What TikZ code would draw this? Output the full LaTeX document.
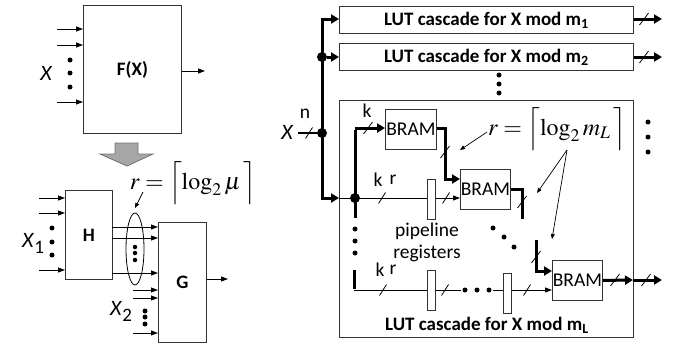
\documentclass[tikz,border=0pt]{standalone}
\usepackage{mathptmx}
\usepackage[no-math]{fontspec}
\setmainfont{Carlito}
\usetikzlibrary{arrows.meta,shapes.geometric}
\tikzset{
  blk/.style={draw=black!80, line width=0.9pt, inner sep=0pt, anchor=north west},
  lbl/.style={font=\fontsize{19.5}{23}\selectfont},
  blbl/.style={font=\bfseries\fontsize{19}{22}\selectfont},
  ilbl/.style={font=\itshape\fontsize{22}{26}\selectfont},
  mlbl/.style={font=\fontsize{24}{28}\selectfont},
  ln/.style={line width=0.9pt},
  arr/.style={line width=0.9pt, -{Triangle[length=7pt,width=5pt]}},
  tln/.style={line width=3pt},
  tarr/.style={line width=3pt, -{Triangle[length=8pt,width=9pt]}},
  smalldot/.style={circle, fill, inner sep=0pt, minimum size=5pt},
  jdot/.style={circle, fill, inner sep=0pt, minimum size=10pt},
  slashmk/.pic={\draw[line width=0.8pt] (-3.5,5.5) -- (3.5,-5.5);},
  bigslash/.pic={\draw[line width=0.8pt] (-4.5,6) -- (4.5,-6);},
}
\begin{document}
\begin{tikzpicture}[x=1pt,y=-1pt]
\useasboundingbox (0,0) rectangle (683,348);

% ---------- left top: F(X) ----------
\node[blk, blbl, minimum width=98pt, minimum height=128pt] (F) at (83,5) {F(X)};
\coordinate (fi1) at (57,29);
\coordinate (fi2) at (57,45);
\coordinate (fi3) at (57,102);
\foreach \c in {fi1,fi2,fi3} \draw[arr] (\c) -- (\c -| F.west);
\node[smalldot] (fd1) at (70,60) {};
\node[smalldot] (fd2) at (70,73) {};
\node[smalldot] (fd3) at (70,87) {};
\node[ilbl] (xl) at (46,73) {X};
\coordinate (fo) at (205,71);
\draw[arr] (F.east |- fo) -- (fo);

% big gray arrow
\draw[draw=black!55, fill=black!35, line width=0.8pt]
  (115,143) -- (138,143) -- (138,154) -- (153,154) -- (127,166) -- (100,154) -- (115,154) -- cycle;

% ---------- left bottom: H and G ----------
\node[blk, blbl, minimum width=47pt, minimum height=89pt] (H) at (65,190) {H};
\node[blk, blbl, minimum width=48pt, minimum height=120pt] (G) at (158,222) {G};
\coordinate (hi1) at (39,198);
\coordinate (hi2) at (39,213);
\coordinate (hi3) at (39,270);
\foreach \c in {hi1,hi2,hi3} \draw[arr] (\c) -- (\c -| H.west);
\node[smalldot] (hd1) at (52,228) {};
\node[smalldot] (hd2) at (52,242) {};
\node[smalldot] (hd3) at (52,255) {};
\node[font=\fontsize{22}{26}\selectfont] (x1) at (33,243) {\textit{X}\raisebox{-6pt}{\fontsize{19}{22}\selectfont 1}};
\coordinate (hg1) at (112,227);
\coordinate (hg2) at (112,238);
\coordinate (hg3) at (112,273);
\foreach \c in {hg1,hg2,hg3} \draw[arr] (\c) -- (\c -| G.west);
\node[draw, ellipse, line width=0.8pt, minimum width=18pt, minimum height=72pt, inner sep=0pt] (ell) at (135,249) {};
\node[smalldot, minimum size=4.5pt] (ed1) at (135,247) {};
\node[smalldot, minimum size=4.5pt] (ed2) at (135,253) {};
\node[smalldot, minimum size=4.5pt] (ed3) at (135,260) {};
\coordinate (gi1) at (133,290);
\coordinate (gi2) at (133,298);
\coordinate (gi3) at (133,333);
\foreach \c in {gi1,gi2,gi3} \draw[arr] (\c) -- (\c -| G.west);
\node[smalldot] (gd1) at (145,311) {};
\node[smalldot] (gd2) at (145,317) {};
\node[smalldot] (gd3) at (145,324) {};
\node[font=\fontsize{22}{26}\selectfont] (x2) at (121,311) {\textit{X}\raisebox{-6pt}{\fontsize{19}{22}\selectfont 2}};
\coordinate (go) at (228,279);
\draw[arr] (G.east |- go) -- (go);
\node[mlbl] (rmu) at (193,183) {$r=\Bigl\lceil \log_2 \mu \,\Bigr\rceil$};
\coordinate (rma) at (143,192);
\coordinate (rmb) at (135,208);
\draw[line width=0.7pt, -{Triangle[length=5pt,width=4pt]}] (rma) -- (rmb);

% ---------- right part ----------
\node[blk, blbl, minimum width=294pt, minimum height=27pt] (B1) at (339,6) {LUT cascade for X mod m\textsubscript{1}};
\node[blk, blbl, minimum width=294pt, minimum height=27pt] (B2) at (339,43) {LUT cascade for X mod m\textsubscript{2}};
\node[blk, minimum width=294pt, minimum height=237pt] (BL) at (339,100) {};
\node[blbl] (bltxt) at (487,325) {LUT cascade for X mod m\textsubscript{L}};

% outputs of box 1, 2
\coordinate (o1) at (662,19);
\coordinate (o2) at (662,57);
\draw[tarr] (B1.east |- o1) -- (o1);
\draw[tarr] (B2.east |- o2) -- (o2);
\pic at (644,19) {bigslash};
\pic at (644,57) {bigslash};

% dots between boxes
\node[smalldot] (vd1) at (499,75) {};
\node[smalldot] (vd2) at (499,84) {};
\node[smalldot] (vd3) at (499,93) {};
\node[smalldot] (rd1) at (648,122) {};
\node[smalldot] (rd2) at (648,137) {};
\node[smalldot] (rd3) at (648,152) {};

% bus
\coordinate (bust) at (322,19);
\coordinate (busb) at (322,198);
\node[jdot] (j2) at (322,57) {};
\node[jdot] (j1) at (322,133) {};
\draw[tln] (busb) -- (bust);
\draw[tarr] ([xshift=-1.5pt]bust) -- (bust -| B1.west);
\draw[tarr] (j2) -- (j2 -| B2.west);
\draw[tarr] ([xshift=-1.5pt]busb) -- (busb -| BL.west);
\coordinate (xin) at (298,133);
\draw[line width=1.6pt] (xin) -- (j1);
\pic at (309,133) {slashmk};
\node[ilbl] (xr) at (287,132) {X};
\node[lbl] (nl) at (305,114) {n};

% inside the L cascade
\node[jdot] (j3) at (355,198) {};
\coordinate (vt) at (355,128);
\coordinate (vb) at (355,218);
\draw[tln] ([yshift=-1.5pt]vt) -- (vb);
\node[blk, lbl, minimum width=51pt, minimum height=40pt] (R1) at (385,109) {BRAM};
\node[blk, lbl, minimum width=50pt, minimum height=40pt] (R2) at (460,169) {BRAM};
\node[blk, lbl, minimum width=50pt, minimum height=40pt] (R3) at (552,260) {BRAM};
\node[blk, minimum width=8pt, minimum height=40pt] (P1) at (427,179) {};
\node[blk, minimum width=8pt, minimum height=40pt] (P2) at (427,270) {};
\node[blk, minimum width=8pt, minimum height=40pt] (P3) at (503,273) {};

\draw[ln] (busb -| BL.west) -- (j3);
\draw[tarr] (vt) -- (vt -| R1.west);
\pic at (368,128) {bigslash};
\node[lbl] (kl1) at (367,111) {k};

\coordinate (c1) at (445,128);
\coordinate (c2) at (445,179);
\draw[tarr] (R1.east |- c1) -- (c1) -- (c2) -- (c2 -| R2.west);
\pic at (445,152) {bigslash};

\draw[ln] (j3) -- (j3 -| P1.west);
\draw[arr] (j3 -| P1.east) -- (j3 -| R2.west);
\pic at (382,198) {slashmk};
\pic at (446,198) {slashmk};
\node[lbl] (kl2) at (378,180) {k};
\node[lbl] (rl2) at (393,180) {r};

\coordinate (c3) at (522,189);
\coordinate (c4) at (522,219);
\draw[tln] (R2.east |- c3) -- (c3) -- (c4);
\pic at (522,202) {bigslash};

\node[smalldot] (dd1) at (493,228) {};
\node[smalldot] (dd2) at (504,237) {};
\node[smalldot] (dd3) at (514,247) {};

\coordinate (c5) at (536,240);
\coordinate (c6) at (536,271);
\draw[tarr] (c5) -- (c6) -- (c6 -| R3.west);
\pic at (536,257) {bigslash};

\coordinate (o3) at (633,280);
\coordinate (o4) at (662,280);
\draw[tarr] (R3.east) -- (o3);
\draw[tarr] (o3) -- (o4);
\pic at (615,280) {bigslash};
\pic at (646,280) {bigslash};

% left dots inside
\node[smalldot] (ld1) at (355,229) {};
\node[smalldot] (ld2) at (355,241) {};
\node[smalldot] (ld3) at (355,253) {};

% bottom row
\coordinate (bt) at (354,270);
\coordinate (bb) at (354,290);
\draw[tln] (bt) -- ([yshift=1.5pt]bb);
\draw[ln] (bb) -- (bb -| P2.west);
\pic at (383,290) {slashmk};
\node[lbl] (kl3) at (380,270) {k};
\node[lbl] (rl3) at (393,270) {r};
\coordinate (b1) at (461,290);
\draw[ln] (bb -| P2.east) -- (b1);
\pic at (445,290) {slashmk};
\node[smalldot] (hd1r) at (465,290) {};
\node[smalldot] (hd2r) at (477,290) {};
\node[smalldot] (hd3r) at (489,290) {};
\coordinate (b2) at (493,290);
\draw[ln] (b2) -- (b2 -| P3.west);
\draw[arr] (bb -| P3.east) -- (bb -| R3.west);
\pic at (527,290) {slashmk};

\node[lbl] (pl1) at (427,231) {pipeline};
\node[lbl] (pl2) at (427,253) {registers};

% r label with arrows
\node[mlbl] (rml) at (557,129) {$r=\Bigl\lceil \log_2 m_L \,\Bigr\rceil$};
\coordinate (a0) at (487,132);
\coordinate (a1) at (460,150);
\coordinate (a2) at (567,150);
\coordinate (a3) at (537,193);
\coordinate (a4) at (552,239);
\draw[line width=0.7pt, -{Triangle[length=5pt,width=4pt]}] (a0) -- (a1);
\draw[line width=0.7pt, -{Triangle[length=5pt,width=4pt]}] (a2) -- (a3);
\draw[line width=0.7pt, -{Triangle[length=5pt,width=4pt]}] (a2) -- (a4);
\end{tikzpicture}
\end{document}
